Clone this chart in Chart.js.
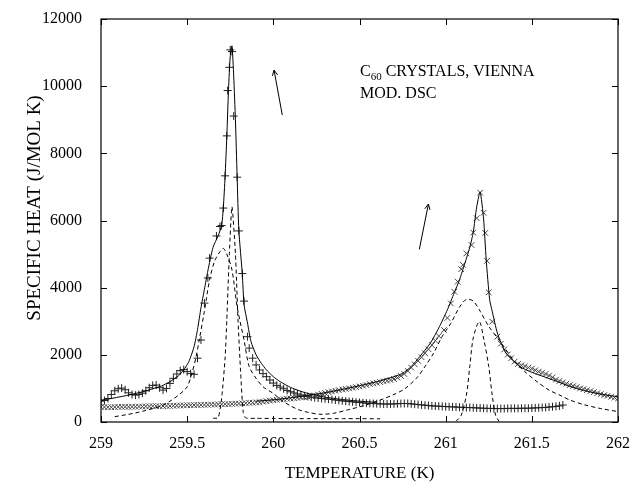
<!DOCTYPE html>
<html>
<head>
<meta charset="utf-8">
<script src="https://cdn.jsdelivr.net/npm/chart.js@4.4.1/dist/chart.umd.min.js"></script>
<style>
  html, body { margin: 0; padding: 0; background: #fff; }
  #wrap { width: 634px; height: 484px; }
</style>
</head>
<body>
<div id="wrap"><canvas id="chart"></canvas></div>
<script>
// tick values
const xTicks = [259, 259.5, 260, 260.5, 261, 261.5, 262];
const yTicks = [0, 2000, 4000, 6000, 8000, 10000, 12000];

// "+" markers: run through the 259.75 K peak
const plusT = [259.00, 259.02, 259.04, 259.06, 259.08, 259.10, 259.12, 259.14, 259.16, 259.18,
  259.20, 259.22, 259.24, 259.26, 259.28, 259.30, 259.32, 259.34, 259.36, 259.38,
  259.40, 259.42, 259.44, 259.46, 259.48, 259.50, 259.52, 259.54, 259.56, 259.58,
  259.60, 259.62, 259.63, 259.67, 259.69, 259.70, 259.71, 259.72, 259.73, 259.735,
  259.745, 259.75, 259.76, 259.77, 259.79, 259.80, 259.82, 259.83, 259.85, 259.86,
  259.88, 259.90, 259.92, 259.94, 259.96, 259.98,
  260.00, 260.02, 260.04, 260.06, 260.08, 260.10, 260.12, 260.14, 260.16, 260.18,
  260.20, 260.22, 260.24, 260.26, 260.28, 260.30, 260.32, 260.34, 260.36, 260.38,
  260.40, 260.42, 260.44, 260.46, 260.48, 260.50, 260.52, 260.54, 260.56, 260.58,
  260.60, 260.62, 260.64, 260.66, 260.68, 260.70, 260.72, 260.74, 260.76, 260.78,
  260.80, 260.82, 260.84, 260.86, 260.88, 260.90, 260.92, 260.94, 260.96, 260.98,
  261.00, 261.02, 261.04, 261.06, 261.08, 261.10, 261.12, 261.14, 261.16, 261.18,
  261.20, 261.22, 261.24, 261.26, 261.28, 261.30, 261.32, 261.34, 261.36, 261.38,
  261.40, 261.42, 261.44, 261.46, 261.48, 261.50, 261.52, 261.54, 261.56, 261.58,
  261.60, 261.62, 261.64, 261.66, 261.68];
const plusCp = [620, 640, 700, 820, 930, 990, 1010, 960, 870, 820,
  800, 820, 860, 930, 1020, 1090, 1100, 1020, 950, 1000,
  1150, 1300, 1430, 1530, 1560, 1500, 1440, 1420, 1900, 2440,
  3540, 4290, 4880, 5540, 5820, 5850, 6370, 7330, 8520, 9870,
  10560, 11080, 11030, 9110, 7290, 5690, 4420, 3600, 2540, 2200,
  1900, 1700, 1550, 1440, 1350, 1250,
  1160, 1090, 1040, 990, 940, 900, 865, 835, 805, 780,
  760, 740, 725, 715, 700, 690, 680, 670, 655, 645,
  630, 620, 610, 600, 590, 580, 570, 560, 555, 550,
  545, 540, 538, 535, 535, 540, 545, 550, 550, 550,
  540, 530, 520, 510, 500, 490, 480, 475, 470, 465,
  460, 455, 450, 445, 440, 435, 430, 430, 425, 420,
  415, 410, 405, 405, 400, 400, 400, 400, 405, 405,
  405, 405, 410, 410, 410, 415, 420, 425, 430, 435,
  445, 455, 465, 480, 505];

// "x" markers: run through the 261.2 K peak
const crossT = [259.00, 259.02, 259.04, 259.06, 259.08, 259.10, 259.12, 259.14, 259.16, 259.18,
  259.20, 259.22, 259.24, 259.26, 259.28, 259.30, 259.32, 259.34, 259.36, 259.38,
  259.40, 259.42, 259.44, 259.46, 259.48, 259.50, 259.52, 259.54, 259.56, 259.58,
  259.60, 259.62, 259.64, 259.66, 259.68, 259.70, 259.72, 259.74, 259.76, 259.78,
  259.80, 259.82, 259.84, 259.86, 259.88, 259.90, 259.92, 259.94, 259.96, 259.98,
  260.00, 260.02, 260.04, 260.06, 260.08, 260.10, 260.12, 260.14, 260.16, 260.18,
  260.20, 260.22, 260.24, 260.26, 260.28, 260.30, 260.32, 260.34, 260.36, 260.38,
  260.40, 260.42, 260.44, 260.46, 260.48, 260.50, 260.52, 260.54, 260.56, 260.58,
  260.60, 260.62, 260.64, 260.66, 260.68, 260.70, 260.72, 260.74, 260.76, 260.78,
  260.80, 260.82, 260.84, 260.86, 260.88, 260.90, 260.92, 260.94, 260.96,
  260.99, 261.01, 261.03, 261.05, 261.07, 261.09, 261.10, 261.12, 261.15, 261.16,
  261.18, 261.20, 261.22, 261.23, 261.24, 261.25, 261.27,
  261.30, 261.32, 261.34, 261.36, 261.38, 261.40, 261.42, 261.44, 261.46, 261.48,
  261.50, 261.52, 261.54, 261.56, 261.58, 261.60, 261.62, 261.64, 261.66, 261.68,
  261.70, 261.72, 261.74, 261.76, 261.78, 261.80, 261.82, 261.84, 261.86, 261.88,
  261.90, 261.92, 261.94, 261.96, 261.98, 262.00];
const crossCp = [450, 445, 440, 440, 445, 450, 450, 455, 450, 455,
  455, 460, 460, 465, 465, 470, 470, 470, 475, 480,
  480, 485, 490, 490, 495, 500, 500, 505, 505, 510,
  510, 515, 520, 520, 525, 530, 530, 535, 540, 545,
  550, 555, 560, 570, 575, 585, 590, 605, 620, 635,
  650, 660, 670, 680, 690, 700, 710, 720, 730, 740,
  750, 770, 790, 815, 840, 865, 890, 910, 930, 950,
  970, 985, 1000, 1020, 1040, 1060, 1080, 1100, 1130, 1150,
  1170, 1190, 1210, 1230, 1250, 1280, 1320, 1370, 1430, 1520,
  1620, 1720, 1820, 1930, 2050, 2170, 2290, 2420, 2560,
  2740, 3100, 3530, 3880, 4180, 4550, 4680, 5020, 5270, 5640,
  6070, 6830, 6230, 5630, 4800, 3860, 2990,
  2540, 2330, 2160, 2010, 1900, 1800, 1730, 1690, 1660, 1620,
  1590, 1540, 1500, 1470, 1430, 1380, 1330, 1260, 1220, 1180,
  1140, 1100, 1070, 1040, 1000, 980, 950, 920, 890, 860,
  830, 800, 780, 750, 725, 700];

// solid fit, first peak
const fitAT = [259.00, 259.05, 259.10, 259.15, 259.20, 259.25, 259.30, 259.35, 259.40, 259.45,
  259.48, 259.51, 259.54, 259.56, 259.58, 259.60, 259.62, 259.65, 259.68, 259.70,
  259.71, 259.72, 259.73, 259.74, 259.75, 259.76, 259.77, 259.78, 259.79, 259.80,
  259.82, 259.83, 259.85, 259.87, 259.90, 259.93, 259.96, 260.00, 260.04, 260.10,
  260.15, 260.20, 260.30, 260.40, 260.50, 260.60];
const fitACp = [650, 690, 740, 790, 850, 910, 990, 1070, 1200, 1380,
  1550, 1800, 2240, 2750, 3400, 3950, 4500, 5200, 5550, 5850,
  6400, 7300, 8500, 9900, 10900, 11200, 10300, 9000, 7300, 5700,
  4400, 3500, 2950, 2400, 2000, 1750, 1550, 1350, 1200, 1030,
  930, 850, 740, 670, 620, 585];

// solid fit, second peak
const fitBT = [259.90, 260.00, 260.10, 260.20, 260.30, 260.40, 260.50, 260.60, 260.70, 260.75,
  260.80, 260.85, 260.91, 260.96, 261.01, 261.05, 261.08, 261.11, 261.14, 261.16,
  261.18, 261.20, 261.22, 261.235, 261.255, 261.27, 261.30, 261.35, 261.43, 261.50,
  261.57, 261.65, 261.72, 261.80, 261.90, 262.00];
const fitBCp = [620, 660, 720, 790, 870, 970, 1080, 1200, 1350, 1450,
  1650, 1950, 2340, 2800, 3340, 3850, 4230, 4700, 5200, 5650,
  6400, 6850, 6050, 4850, 3650, 3300, 2650, 2050, 1650, 1480,
  1350, 1200, 1060, 940, 830, 750];

// dashed broad components
const broadT = [259.08, 259.15, 259.20, 259.25, 259.30, 259.35, 259.40, 259.45, 259.50, 259.53,
  259.55, 259.57, 259.60, 259.63, 259.66, 259.69, 259.71, 259.73, 259.76, 259.79,
  259.83, 259.86, 259.90, 259.94, 260.00, 260.05, 260.10, 260.15, 260.20, 260.27,
  260.35, 260.43, 260.52, 260.62, 260.70, 260.76, 260.83, 260.88, 260.93, 260.98,
  261.03, 261.08, 261.12, 261.16, 261.20, 261.25, 261.33, 261.40, 261.47, 261.53,
  261.60, 261.67, 261.72, 261.80, 261.90, 262.00];
const broadCp = [160, 220, 270, 330, 400, 480, 620, 800, 1050, 1500,
  1900, 2440, 3300, 4230, 4800, 5070, 5170, 5000, 4530, 3430,
  2440, 1650, 1300, 1050, 850, 640, 480, 360, 290, 230,
  260, 360, 480, 655, 820, 980, 1300, 1650, 2050, 2550,
  2940, 3420, 3650, 3600, 3300, 2850, 2300, 1800, 1450, 1200,
  950, 780, 655, 520, 400, 310];

// dashed narrow components
const narrowAT = [259.65, 259.68, 259.70, 259.72, 259.73, 259.745, 259.76, 259.78, 259.795, 259.81,
  259.825, 259.84, 259.90, 260.00, 260.10, 260.20, 260.30, 260.40, 260.50, 260.62];
const narrowACp = [110, 130, 700, 1900, 3040, 5020, 6410, 5020, 3040, 1500,
  300, 120, 110, 105, 100, 100, 100, 100, 100, 95];
const narrowBT = [261.06, 261.09, 261.12, 261.14, 261.16, 261.195, 261.22, 261.25, 261.27, 261.29, 261.31];
const narrowBCp = [20, 200, 800, 1650, 2500, 2990, 2500, 1650, 800, 200, 20];

// arrows [fromT, fromCp, toT, toCp]
const arrows = [
  [260.052, 9140, 260.004, 10480],
  [260.847, 5140, 260.900, 6490]
];

const pts = (xs, ys) => xs.map((x, i) => ({ x: x, y: ys[i] }));
const serif = '"Liberation Serif", "DejaVu Serif", serif';

const frame = {
  id: 'frame',
  afterDraw(chart) {
    const ctx = chart.ctx;
    const a = chart.chartArea;
    const xs = chart.scales.x, ys = chart.scales.y;
    ctx.save();
    ctx.strokeStyle = '#000';
    ctx.lineWidth = 1.2;
    ctx.strokeRect(a.left, a.top, a.right - a.left, a.bottom - a.top);
    ctx.lineWidth = 1;
    ctx.beginPath();
    xTicks.forEach(t => {
      const px = Math.round(xs.getPixelForValue(t)) + 0.5;
      ctx.moveTo(px, a.bottom); ctx.lineTo(px, a.bottom - 6);
      ctx.moveTo(px, a.top); ctx.lineTo(px, a.top + 6);
    });
    yTicks.forEach(t => {
      const py = Math.round(ys.getPixelForValue(t)) + 0.5;
      ctx.moveTo(a.left, py); ctx.lineTo(a.left + 6, py);
      ctx.moveTo(a.right, py); ctx.lineTo(a.right - 6, py);
    });
    ctx.stroke();

    // arrows
    arrows.forEach(r => {
      const x0 = xs.getPixelForValue(r[0]), y0 = ys.getPixelForValue(r[1]);
      const x1 = xs.getPixelForValue(r[2]), y1 = ys.getPixelForValue(r[3]);
      const ang = Math.atan2(y1 - y0, x1 - x0);
      ctx.beginPath();
      ctx.moveTo(x0, y0); ctx.lineTo(x1, y1);
      ctx.moveTo(x1 - 6 * Math.cos(ang - 0.45), y1 - 6 * Math.sin(ang - 0.45));
      ctx.lineTo(x1, y1);
      ctx.lineTo(x1 - 6 * Math.cos(ang + 0.45), y1 - 6 * Math.sin(ang + 0.45));
      ctx.stroke();
    });

    ctx.fillStyle = '#000';
    // y axis title, sits a little above the middle of the axis
    ctx.save();
    ctx.translate(35, 208);
    ctx.rotate(-Math.PI / 2);
    ctx.textAlign = 'center';
    ctx.textBaseline = 'middle';
    ctx.font = '19px ' + serif;
    ctx.fillText('SPECIFIC HEAT (J/MOL K)', 0, 0);
    ctx.restore();

    // label
    ctx.textBaseline = 'alphabetic';
    ctx.textAlign = 'left';
    ctx.font = '16px ' + serif;
    const lx = 360, ly = 76;
    ctx.fillText('C', lx, ly);
    const cw = ctx.measureText('C').width;
    ctx.font = '11px ' + serif;
    ctx.fillText('60', lx + cw, ly + 4);
    const sw = ctx.measureText('60').width;
    ctx.font = '16px ' + serif;
    ctx.fillText(' CRYSTALS, VIENNA', lx + cw + sw, ly);
    ctx.fillText('MOD. DSC', lx, ly + 22);
    ctx.restore();
  }
};

new Chart(document.getElementById('chart'), {
  type: 'scatter',
  data: {
    datasets: [
      { data: pts(broadT, broadCp), showLine: true, borderColor: '#000', borderWidth: 1, borderDash: [4, 3], pointRadius: 0, tension: 0.3 },
      { data: pts(narrowAT, narrowACp), showLine: true, borderColor: '#000', borderWidth: 1, borderDash: [4, 3], pointRadius: 0, tension: 0.2 },
      { data: pts(narrowBT, narrowBCp), showLine: true, borderColor: '#000', borderWidth: 1, borderDash: [4, 3], pointRadius: 0, tension: 0.3 },
      { data: pts(fitAT, fitACp), showLine: true, borderColor: '#000', borderWidth: 1, pointRadius: 0, tension: 0.2 },
      { data: pts(fitBT, fitBCp), showLine: true, borderColor: '#000', borderWidth: 1, pointRadius: 0, tension: 0.2 },
      { data: pts(crossT, crossCp), showLine: false, pointStyle: 'crossRot', pointRadius: 4, borderColor: '#444', borderWidth: 1 },
      { data: pts(plusT, plusCp), showLine: false, pointStyle: 'cross', pointRadius: 4, borderColor: '#222', borderWidth: 1 }
    ]
  },
  options: {
    responsive: true,
    maintainAspectRatio: false,
    animation: false,
    layout: { padding: { top: 19, right: 16, left: 0, bottom: 0 } },
    plugins: { legend: { display: false }, tooltip: { enabled: false } },
    scales: {
      x: {
        type: 'linear', min: 259, max: 262,
        afterBuildTicks: s => { s.ticks = xTicks.map(v => ({ value: v })); },
        grid: { display: false },
        border: { display: false },
        ticks: { color: '#000', font: { family: serif, size: 16 }, padding: 4, maxRotation: 0, callback: v => String(v) },
        title: { display: true, text: 'TEMPERATURE (K)', color: '#000', font: { family: serif, size: 17 }, padding: { top: 10, bottom: 0 } },
        afterFit: s => { s.height = 62; s.paddingLeft = 0; s.paddingRight = 0; }
      },
      y: {
        type: 'linear', min: 0, max: 12000,
        afterBuildTicks: s => { s.ticks = yTicks.map(v => ({ value: v })); },
        grid: { display: false },
        border: { display: false },
        ticks: { color: '#000', font: { family: serif, size: 16 }, padding: 11, callback: v => String(v) },
        afterFit: s => { s.width = 101; s.paddingTop = 0; s.paddingBottom = 0; }
      }
    }
  },
  plugins: [frame]
});
</script>
</body>
</html>
